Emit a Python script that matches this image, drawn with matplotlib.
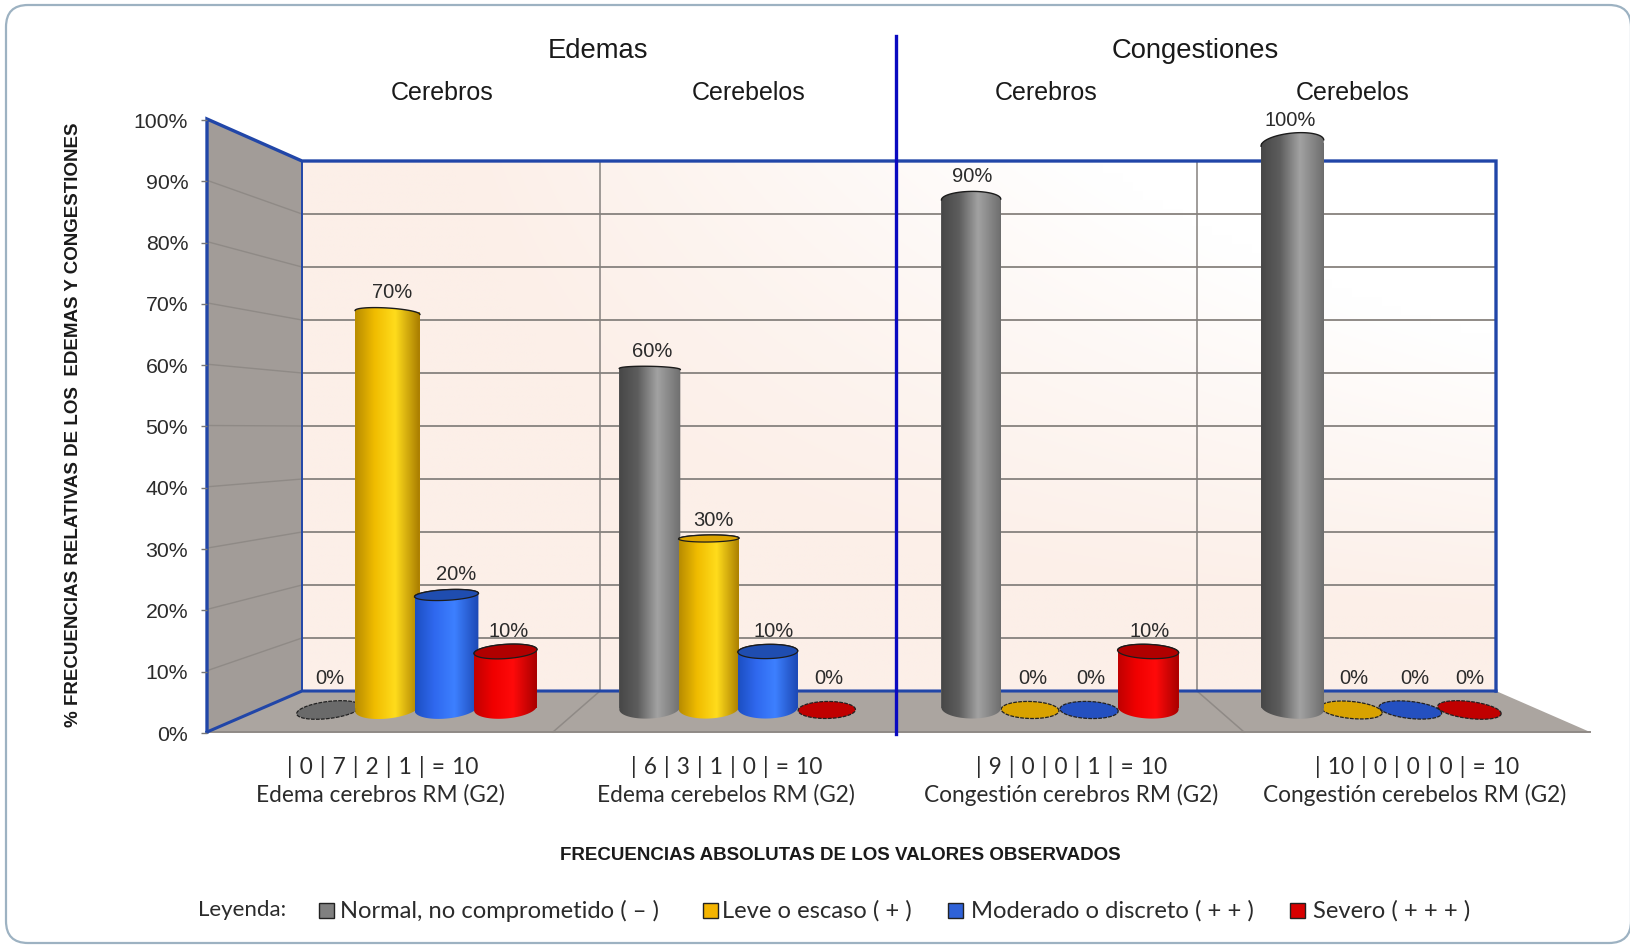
import numpy as np
import matplotlib
matplotlib.use("Agg")
import matplotlib.pyplot as plt
from matplotlib.patches import Polygon, Rectangle, FancyBboxPatch
from matplotlib.ticker import PercentFormatter

# ---------- data ----------
categories = ["Edema cerebros RM (G2)", "Edema cerebelos RM (G2)",
              "Congestión cerebros RM (G2)", "Congestión cerebelos RM (G2)"]
series_names = ["Normal, no comprometido ( – )", "Leve o escaso ( + )",
                "Moderado o discreto ( + + )", "Severo ( + + + )"]
normal = [0, 60, 90, 100]
leve = [70, 30, 0, 0]
moderado = [20, 10, 0, 0]
severo = [10, 0, 10, 0]
total_n = [10, 10, 10, 10]
y_ticks = [0, 10, 20, 30, 40, 50, 60, 70, 80, 90, 100]
group_titles = ["Edemas", "Congestiones"]
sub_titles = ["Cerebros", "Cerebelos", "Cerebros", "Cerebelos"]

# ---------- styles ----------
W, H = 1630, 946
SANS = "Liberation Sans"
CAL = "Lato"
TXT = "#2b2b2b"
BLUE = "#2146a8"
grads = [["#474747", "#5d5d5d", "#a2a2a2", "#6e6e6e"],
         ["#b88c00", "#f0bc00", "#ffdc1c", "#a87c00"],
         ["#1c4fc2", "#2f68ee", "#3d80ff", "#1c48b4"],
         ["#c00000", "#f00000", "#ff0a0a", "#a80000"]]
tops = ["#606060", "#dca400", "#1f4db0", "#b00000"]
flats = ["#6a6a6a", "#d8a200", "#2450c0", "#c00000"]
legend_cols = ["#808080", "#f4b400", "#2f62d8", "#d80000"]

def rgb(h):
    return np.array(matplotlib.colors.to_rgb(h))

fig = plt.figure(figsize=(W / 100, H / 100), dpi=100, facecolor="white")

# ---------- pixel-space backdrop ----------
bg = fig.add_axes([0, 0, 1, 1], zorder=0)
bg.set_xlim(0, W)
bg.set_ylim(H, 0)
bg.axis("off")
bg.add_patch(FancyBboxPatch((6, 5), W - 5, 938, boxstyle="round,pad=0,rounding_size=22",
                            fc="white", ec="#9db2c2", lw=1.6, clip_on=True))

FL, FB, FT = 207, 732, 119        # front-left edge of the side wall
BL, BR, BB, BT = 302, 1496, 691, 161  # back wall
FR = 1590

# back wall with a soft gradient
ny, nx = 60, 120
yy, xx = np.mgrid[0:1:ny * 1j, 0:1:nx * 1j]
f = np.clip(1.25 - 0.95 * xx * (1 - yy) * 2.0, 0.0, 1.0)[..., None]
wall = (1 - f) * rgb("#ffffff") + f * rgb("#fcefe8")
bg.imshow(wall, extent=(BL, BR, BB, BT), aspect="auto", zorder=1, interpolation="bilinear")
bg.set_xlim(0, W)
bg.set_ylim(H, 0)

bg.add_patch(Polygon([(FL, FB), (BL, BB), (BR, BB), (FR, FB)], fc="#aba5a0", ec="none", zorder=1))
bg.add_patch(Polygon([(FL, FB), (FL, FT), (BL, BT), (BL, BB)], fc="#a29c98", ec="none", zorder=1))
bg.plot([FL, FR], [FB, FB], color="#8f8a86", lw=1.4, zorder=2)

for v in y_ticks[1:-1]:
    yf = FB + (FT - FB) * v / 100
    yb = BB + (BT - BB) * v / 100
    bg.plot([FL, BL], [yf, yb], color="#8f8a86", lw=1.0, zorder=2)
    bg.plot([BL, BR], [yb, yb], color="#8f8a86", lw=1.4, zorder=2)

# dividers between the categories (wall + floor)
for xb, xf in [(600, 553), (1197, 1244)]:
    bg.plot([xb, xb], [BT, BB], color="#85817e", lw=1.1, zorder=2)
    bg.plot([xb, xf], [BB, FB], color="#8f8a86", lw=1.1, zorder=2)

# blue frame
bg.plot([FL, FL, BL, BR, BR], [FB, FT, BT, BT, BB], color=BLUE, lw=2.4, zorder=3, solid_joinstyle="miter")
bg.plot([BL, BL], [BT, BB], color=BLUE, lw=1.4, zorder=3)
bg.plot([FL, BL, BR], [FB, BB, BB], color=BLUE, lw=2.2, zorder=3)

# ---------- value axis (front edge of the side wall) ----------
tk = fig.add_axes([FL / W, 1 - (FB + 1) / H, 0.0001, (FB - FT) / H], zorder=1)
tk.patch.set_visible(False)
tk.set_ylim(0, 100)
tk.set_xticks([])
tk.set_yticks(y_ticks)
tk.yaxis.set_major_formatter(PercentFormatter(100, decimals=0))
tk.tick_params(axis="y", length=4, width=1.0, color="#777777", pad=9.5, labelsize=15.3, labelcolor=TXT)
for lab in tk.get_yticklabels():
    lab.set_fontfamily(SANS)
for s in tk.spines.values():
    s.set_visible(False)

# ---------- bars ----------
PX_X, PX_Y = 321.3, 5.65
X0, Y0 = 417.0, 708.0
ax = fig.add_axes([0, 0, 1, 1], zorder=2)
ax.patch.set_visible(False)
ax.axis("off")
xlim = ((0 - X0) / PX_X, (W - X0) / PX_X)
ylim = ((Y0 - H) / PX_Y, (Y0 - 0) / PX_Y)
STEP = 59 / PX_X
series = [normal, leve, moderado, severo]
lab_shift = [[1, 5, 10, 3], [2, 5, 6, 2], [1, 3, 2, 2], [-2, 2, 4, 0]]

def arc(cx, cy, a, b, th, t0, t1):
    t = np.linspace(t0, t1, 60)
    dx = a * np.cos(t) * np.cos(th) - b * np.sin(t) * np.sin(th)
    dy = a * np.cos(t) * np.sin(th) + b * np.sin(t) * np.cos(th)
    return cx + dx / PX_X, cy + dy / PX_Y

for g in range(len(categories)):
    for i, vals in enumerate(series):
        v = vals[g]
        x = g + (i - 1.5) * STEP
        xpx = X0 + x * PX_X
        d = (xpx - 900) / 570
        wpx = 59 + 7 * abs(d) ** 1.5
        a = wpx / 2
        th = np.deg2rad(-7 * d)
        if v == 0:
            xs, ys = arc(x, -0.35, a - 1, 8.5, th, 0, 2 * np.pi)
            ax.fill(xs, ys, fc=flats[i], ec="#222222", lw=0.9, ls=(0, (3, 1)), zorder=2)
            top_px = Y0 + 2 - 8.5
        else:
            z = 3 + i
            bars = ax.bar(x, v, width=wpx / PX_X, color=flats[i], zorder=z)
            th_top = np.deg2rad(-7 * d * (1 - v / 45))
            b_top = 0.18 * (v - 45)
            b_top = b_top if v > 45 else b_top - 0.8
            bx, by = arc(x, 0, a, 10.5, th, np.pi, 2 * np.pi)
            tx, ty = arc(x, v, a, abs(b_top), th_top, 0, np.pi)
            px = np.r_[bx, tx]
            py = np.r_[by, ty]
            outline = Polygon(np.c_[px, py], closed=True, transform=ax.transData)
            strip = np.array([rgb(c) for c in grads[i]])
            pos = np.array([0, 0.3, 0.62, 1.0])
            u = np.linspace(0, 1, 128)
            img = np.stack([np.interp(u, pos, strip[:, k]) for k in range(3)], axis=-1)[None, ...]
            im = ax.imshow(img, extent=(px.min(), px.max(), py.min(), py.max()),
                           aspect="auto", zorder=z + 0.1, interpolation="bilinear")
            im.set_clip_path(outline)
            ax.plot(tx, ty, color="#1c1c1c", lw=1.0, zorder=z + 0.2)
            if v < 45:
                ex, ey = arc(x, v, a, abs(b_top), th_top, 0, 2 * np.pi)
                ax.fill(ex, ey, fc=tops[i], ec="#1c1c1c", lw=0.9, zorder=z + 0.3)
            top_px = Y0 - v * PX_Y - abs(b_top)
        # label sits a fixed distance over the highest point of the mark
        if v == 0:
            lift = 23
        elif v in (10, 100):
            lift = 13
        else:
            lift = 15
        ax.annotate(f"{v}%", xy=(x, v), xytext=(lab_shift[g][i], Y0 - v * PX_Y - top_px + lift),
                    textcoords="offset pixels", ha="center", va="center",
                    fontsize=14.5, family=SANS, color=TXT, zorder=20)
ax.set_xlim(*xlim)
ax.set_ylim(*ylim)

# ---------- texts ----------
ov = fig.add_axes([0, 0, 1, 1], zorder=3)
ov.set_xlim(0, W)
ov.set_ylim(H, 0)
ov.axis("off")
ov.plot([896, 896], [36, 734], color="#0a0ac0", lw=2.4)

for t, xc in zip(group_titles, [598, 1195]):
    ov.text(xc, 51, t, ha="center", va="center", fontsize=19.7, family=SANS, color="#1a1a1a")
for t, xc in zip(sub_titles, [442, 748.5, 1046, 1352.5]):
    ov.text(xc, 92.5, t, ha="center", va="center", fontsize=18, family=SANS, color="#1a1a1a")

count_x = [382.5, 727, 1072, 1417]
name_x = [380.5, 725.6, 1071, 1415]
for g, cat in enumerate(categories):
    counts = " | ".join(str(int(s[g] / 10)) for s in series)
    label = f"| {counts} | = {total_n[g]}".replace(" ", " \u200a")
    ov.text(count_x[g], 767, label, ha="center", va="center",
            fontsize=16.3, family=[CAL, "DejaVu Sans"], color=TXT)
    ov.text(name_x[g], 795, cat, ha="center", va="center", fontsize=16.3, family=CAL, color=TXT)

ov.text(840, 855, "FRECUENCIAS ABSOLUTAS DE LOS VALORES OBSERVADOS", ha="center", va="center",
        fontsize=13.5, family=SANS, weight="bold", color="#1a1a1a")
ov.text(74, 425, "% FRECUENCIAS RELATIVAS DE LOS  EDEMAS Y CONGESTIONES", rotation=90,
        ha="center", va="center", fontsize=13.5, family=SANS, weight="bold", color="#1a1a1a")

# ---------- legend ----------
ov.text(197.5, 910, "Leyenda:", ha="left", va="center", fontsize=16, family=CAL, color=TXT)
for name, col, xs, xt in zip(series_names, legend_cols, [319, 703, 948, 1290], [340, 722, 971, 1313]):
    ov.add_patch(Rectangle((xs, 903), 15, 15, fc=col, ec="#222222", lw=1))
    ov.text(xt, 911, name, ha="left", va="center", fontsize=17.1, family=CAL, color=TXT)

fig.savefig("out.png", dpi=100, facecolor="white")
